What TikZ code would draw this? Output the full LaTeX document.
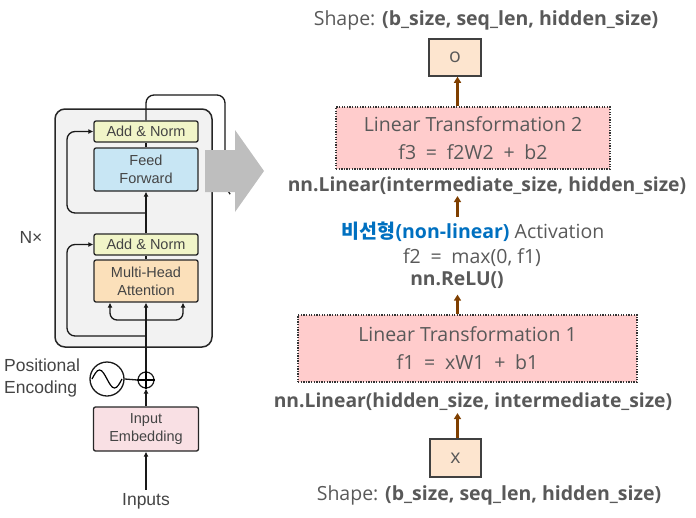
\documentclass[tikz,border=0pt]{standalone}
\usepackage{fontspec}
\setmainfont{Open Sans}
\newfontfamily\lf{Liberation Sans}
\newfontfamily\kr{Noto Sans CJK KR}
\usetikzlibrary{arrows.meta}
\definecolor{tg}{HTML}{595959}
\definecolor{lg}{HTML}{444444}
\definecolor{encfill}{HTML}{F2F2F2}
\definecolor{anfill}{HTML}{F1F5C8}
\definecolor{fffill}{HTML}{C8E6F4}
\definecolor{mhafill}{HTML}{FBE0BA}
\definecolor{embfill}{HTML}{F9E0E4}
\definecolor{peach}{HTML}{FDE5CF}
\definecolor{ltfill}{HTML}{FFCCCC}
\definecolor{brn}{HTML}{7F3F00}
\definecolor{blu}{HTML}{0070C0}
\definecolor{garrow}{HTML}{BEBEBE}
\newcommand{\wsp}{\hspace{0.5em}}
\begin{document}
\begin{tikzpicture}[x=1pt,y=-1pt,
  lbox/.style={draw=black!85, line width=1.3pt, rounded corners=2pt, text=lg,
    font=\lf\fontsize{14.5}{18}\selectfont, align=center, minimum width=104pt, inner sep=0pt},
  larr/.style={line width=1.3pt, draw=black!90, -{Latex[length=5pt,width=5pt]}},
  lline/.style={line width=1.3pt, draw=black!90},
  ltxt/.style={text=lg, font=\lf\fontsize{17.5}{22}\selectfont, inner sep=0pt},
  rtxt/.style={text=tg, font=\fontsize{19.5}{22}\selectfont, inner sep=0pt},
  rbold/.style={text=tg, font=\bfseries\fontsize{19.3}{22}\selectfont, inner sep=0pt},
  ltbox/.style={draw=black!80, dash pattern=on 1.3pt off 1.3pt, line width=1.2pt, fill=ltfill, text=tg,
    font=\fontsize{19.5}{28}\selectfont, align=center, inner sep=0pt},
  pbox/.style={draw=black!75, line width=1.5pt, fill=peach, text=tg,
    font=\fontsize{19.5}{22}\selectfont, inner sep=0pt},
  barr/.style={line width=2.2pt, draw=brn, -{Triangle[length=6pt,width=7pt]}}
]
\useasboundingbox (0,0) rectangle (696,517);

% ---------------- left: encoder ----------------
\node[draw=black!85, line width=1.5pt, fill=encfill, rounded corners=10pt,
  minimum width=157pt, minimum height=238pt, inner sep=0pt] (enc) at (133.5,228) {};

\node[lbox, fill=anfill, minimum height=21pt] (an2) at (146,131.5) {Add \& Norm};
\node[lbox, fill=fffill, minimum height=43pt] (ff) at (146,169.5) {Feed\\Forward};
\node[lbox, fill=anfill, minimum height=21pt] (an1) at (146,244.5) {Add \& Norm};
\node[lbox, fill=mhafill, minimum height=42pt] (mha) at (146,281) {Multi-Head\\Attention};
\node[lbox, fill=embfill, minimum height=44pt, minimum width=105pt] (emb) at (146,429) {Input\\Embedding};

\node[draw=black!90, line width=1.2pt, circle, minimum size=16pt, inner sep=0pt] (plus) at (146,380) {};
\draw[line width=1.1pt] (plus.north) -- (plus.south) (plus.west) -- (plus.east);
\node[draw=black!90, line width=1.3pt, circle, minimum size=34pt, inner sep=0pt] (sine) at (107,379) {};
\draw[line width=1.2pt] (sine.center) ++(-15,0) sin ++(7.5,-9) cos ++(7.5,9) sin ++(7.5,9) cos ++(7.5,-9);

\node[ltxt] (nx) at (31,237) {N\texttimes};
\node[ltxt, align=left, anchor=west] (pe) at (4,378) {Positional\\Encoding};
\node[ltxt] (inputs) at (146,501) {Inputs};

\coordinate (fork) at (146,320);
\coordinate (res1) at (146,336);
\coordinate (res2) at (146,213);
\coordinate (top) at (146,95);

\draw[larr] (inputs.north) ++(0,-3) coordinate (inp) (inp) -- (emb.south);
\draw[larr] (emb.north) -- (plus.south);
\draw[lline] (sine.east) -- (plus.west);
\draw[larr] (plus.north) -- (mha.south);
\draw[larr, rounded corners=7pt] (fork) -| ([xshift=-36pt]mha.south);
\draw[larr, rounded corners=7pt] (fork) -| ([xshift=37pt]mha.south);
\draw[larr, rounded corners=8pt] (res1) -- (67,336) |- (an1.west);
\draw[lline] (mha.north) -- (an1.south);
\draw[larr] (an1.north) -- (ff.south);
\draw[larr, rounded corners=8pt] (res2) -- (67,213) |- (an2.west);
\draw[lline] (ff.north) -- (an2.south);
\draw[lline, rounded corners=8pt] (an2.north) -- (top) -- (225,95) -- (225,188) -- (230,194);

% grey arrow
\fill[garrow] (205,150) -- (235,150) -- (235,130) -- (264,171) -- (235,212) -- (235,192) -- (205,192) -- cycle;

% ---------------- right: FFN ----------------
\coordinate (ax) at (457.5,0);
\node[rtxt] (shapetop) at (486,20) {Shape: \textbf{(b\_size, seq\_len, hidden\_size)}};
\node[pbox, minimum width=52pt, minimum height=37pt] (obox) at (455,57.5) {o};
\node[ltbox, minimum width=274pt, minimum height=62pt] (lt2) at (473,138)
  {Linear Transformation 2\\f3\wsp=\wsp f2W2\wsp+\wsp b2};
\node[rbold] (nl2) at (487,186) {nn.Linear(intermediate\_size, hidden\_size)};
\node[rtxt] (act) at (473,232) {{\color{blu}\kr\bfseries 비선형}{\color{blu}\bfseries(non-linear)} Activation};
\node[rtxt] (f2) at (472,258) {f2\wsp=\wsp max(0, f1)};
\node[rbold] (relu) at (457,280) {nn.ReLU()};
\node[ltbox, minimum width=339pt, minimum height=67pt] (lt1) at (467.5,348.5)
  {Linear Transformation 1\\f1\wsp=\wsp xW1\wsp+\wsp b1};
\node[rbold] (nl1) at (473,402) {nn.Linear(hidden\_size, intermediate\_size)};
\node[pbox, minimum width=51pt, minimum height=38pt] (xbox) at (455.5,458) {x};
\node[rtxt] (shapebot) at (489,495) {Shape: \textbf{(b\_size, seq\_len, hidden\_size)}};

\draw[barr] (ax |- xbox.north) -- ([yshift=-2pt]ax |- nl1.south);
\draw[barr] (ax |- lt1.north) -- ([yshift=-6pt]ax |- relu.south);
\draw[barr] (ax |- act.north) ++(0,-5) coordinate (a2) (a2) -- ([yshift=-1pt]ax |- nl2.south);
\draw[barr] (ax |- lt2.north) -- (ax |- obox.south);
\end{tikzpicture}
\end{document}
